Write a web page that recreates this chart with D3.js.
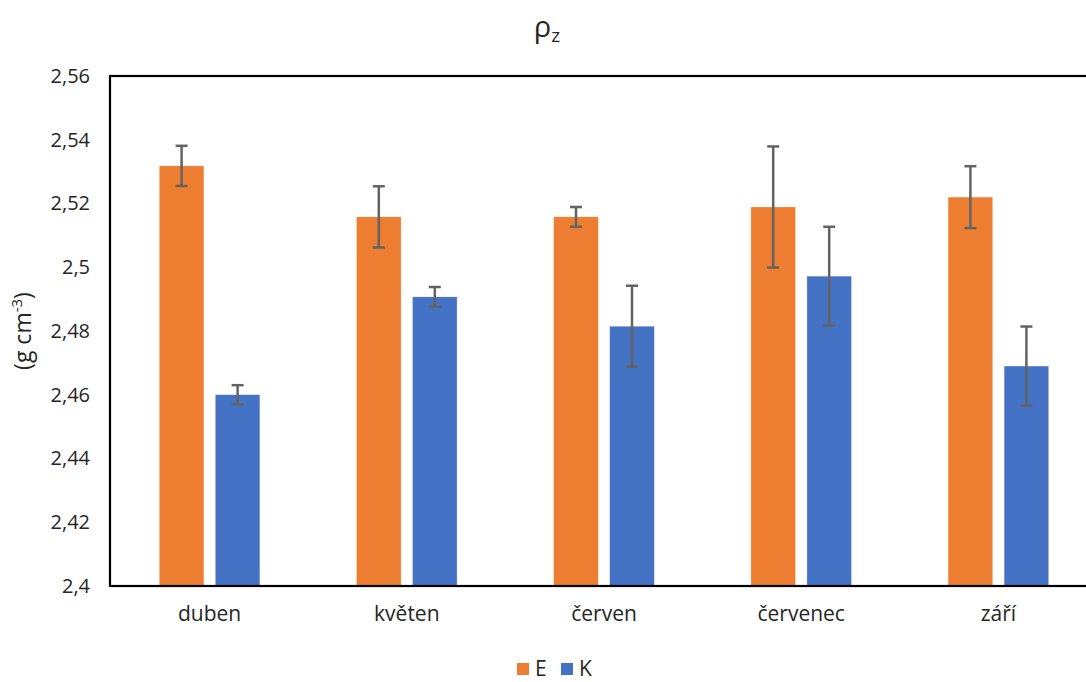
<!DOCTYPE html>
<html>
<head>
<meta charset="utf-8">
<script src="https://cdn.jsdelivr.net/npm/d3@7"></script>
<style>
  html, body { margin: 0; padding: 0; background: #fff; }
  svg { display: block; font-family: "Open Sans", "Noto Sans", sans-serif; }
</style>
</head>
<body>
<svg id="chart" width="1086" height="682"></svg>
<script>
// Monthly density values for the two sites, with error bar half-widths
const months = ["duben", "květen", "červen", "červenec", "září"];
const seriesNames = ["E", "K"];
const valuesE = [2.5318, 2.5158, 2.5158, 2.5189, 2.5220];
const valuesK = [2.4600, 2.4907, 2.4815, 2.4972, 2.4690];
const errorsE = [0.0063, 0.0096, 0.0031, 0.0190, 0.0097];
const errorsK = [0.0030, 0.0031, 0.0127, 0.0155, 0.0124];
const yTicks = [2.4, 2.42, 2.44, 2.46, 2.48, 2.5, 2.52, 2.54, 2.56];
const colors = { E: "#ED7D31", K: "#4472C4" };

const svg = d3.select("#chart");
const margin = { left: 110, top: 76, right: -10, bottom: 96 };
const W = 1086, H = 682;
const plotLeft = margin.left, plotRight = W - margin.right;
const plotTop = margin.top, plotBottom = H - margin.bottom;

const x = d3.scaleBand().domain(months).range([plotLeft + 1, plotRight + 1]).paddingInner(0).paddingOuter(0);
const y = d3.scaleLinear().domain([2.4, 2.56]).range([plotBottom, plotTop]);

const barW = 44.5, gap = 11.5;
const offsets = { E: -(gap / 2 + barW), K: gap / 2 };

const rows = [];
months.forEach((m, i) => {
  rows.push({ month: m, s: "E", v: valuesE[i], e: errorsE[i] });
  rows.push({ month: m, s: "K", v: valuesK[i], e: errorsK[i] });
});

// Bars
svg.append("g").selectAll("rect").data(rows).join("rect")
  .attr("x", d => x(d.month) + x.bandwidth() / 2 + offsets[d.s])
  .attr("y", d => y(d.v))
  .attr("width", barW)
  .attr("height", d => y(2.4) - y(d.v))
  .attr("fill", d => colors[d.s])
  .attr("stroke", "#fbe3d3")
  .attr("stroke-opacity", 0.5)
  .attr("stroke-width", 0.6);

// Error bars
const eg = svg.append("g").attr("stroke", "#636363").attr("stroke-width", 2.5).attr("fill", "none");
rows.forEach(d => {
  const cx = x(d.month) + x.bandwidth() / 2 + offsets[d.s] + barW / 2;
  const y1 = y(d.v + d.e), y2 = y(d.v - d.e);
  eg.append("line").attr("x1", cx).attr("x2", cx).attr("y1", y1).attr("y2", y2);
  eg.append("line").attr("x1", cx - 6).attr("x2", cx + 6).attr("y1", y1).attr("y2", y1);
  eg.append("line").attr("x1", cx - 6).attr("x2", cx + 6).attr("y1", y2).attr("y2", y2);
});

// Plot frame
svg.append("rect")
  .attr("x", plotLeft).attr("y", plotTop)
  .attr("width", plotRight - plotLeft).attr("height", plotBottom - plotTop)
  .attr("fill", "none").attr("stroke", "#000").attr("stroke-width", 2.2);

// Y axis labels
const yAxis = d3.axisLeft(y).tickValues(yTicks).tickSize(0).tickPadding(20)
  .tickFormat(d => d3.format(".2~f")(d).replace(".", ","));
const ya = svg.append("g").attr("transform", `translate(${plotLeft},0)`).call(yAxis);
ya.select(".domain").remove();
ya.selectAll("text").attr("font-size", 20).attr("fill", "#262626")
  .attr("font-family", "'Open Sans', sans-serif");

// X axis labels
const xAxis = d3.axisBottom(x).tickSize(0).tickPadding(20);
const xa = svg.append("g").attr("transform", `translate(0,${plotBottom})`).call(xAxis);
xa.select(".domain").remove();
xa.selectAll("text").attr("font-size", 21).attr("fill", "#262626")
  .attr("font-family", "'Open Sans', sans-serif");

// Title ρ with subscript z
const title = svg.append("text").attr("x", 547).attr("y", 37)
  .attr("text-anchor", "middle").attr("fill", "#262626").attr("font-size", 29);
title.append("tspan").text("ρ");
title.append("tspan").attr("font-size", 19).attr("dy", 5).text("z");

// Y axis title
const yt = svg.append("text").attr("transform", "translate(31,331) rotate(-90)")
  .attr("text-anchor", "middle").attr("fill", "#262626").attr("font-size", 23);
yt.append("tspan").text("(g cm");
yt.append("tspan").attr("font-size", 15).attr("dy", -9).text("-3");
yt.append("tspan").attr("dy", 9).text(")");

// Legend
const legend = svg.append("g").attr("transform", "translate(517,663)");
seriesNames.forEach((s, i) => {
  const g = legend.append("g").attr("transform", `translate(${i * 44},0)`);
  g.append("rect").attr("width", 12).attr("height", 12).attr("fill", colors[s]);
  g.append("text").attr("x", 18).attr("y", 13).attr("font-size", 21).attr("fill", "#262626").text(s);
});
</script>
</body>
</html>
